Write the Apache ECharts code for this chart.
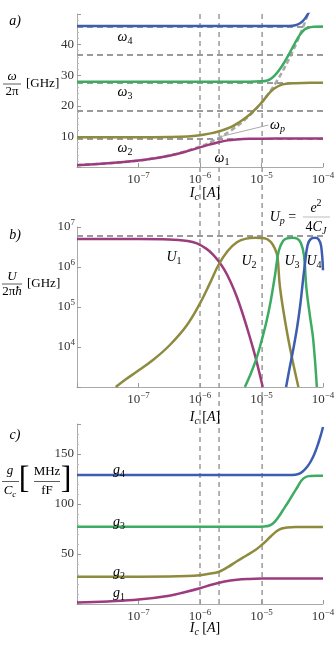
<!DOCTYPE html>
<html>
<head>
<meta charset="utf-8">
<script src="https://cdn.jsdelivr.net/npm/echarts/dist/echarts.min.js"></script>
<style>
html, body { margin: 0; padding: 0; background: #fff; }
#chart { width: 335px; height: 652px; }
</style>
</head>
<body>
<div id="chart"></div>
<script>
// x values are log10(Ic / A)
// panel a) mode frequencies omega/2pi [GHz]
const w1X = [-8, -7.5, -7, -6.75, -6.5, -6.25, -6, -5.85, -5.7, -5.55, -5.4, -5.2, -5, -4.5, -4];
const w1Y = [0.6, 1.2, 2.1, 2.8, 3.7, 4.9, 6.4, 7.3, 8.1, 8.7, 9.0, 9.2, 9.25, 9.3, 9.3];
const w2X = [-8, -7, -6.5, -6.2, -6, -5.85, -5.7, -5.5, -5.35, -5.2, -5.1, -5, -4.92, -4.85, -4.78, -4.7, -4.6, -4.45, -4.2, -4];
const w2Y = [9.7, 9.7, 9.8, 10.0, 10.4, 10.9, 11.6, 13.0, 14.8, 17.0, 18.9, 21.0, 23.0, 24.6, 25.8, 26.7, 27.2, 27.4, 27.5, 27.5];
const w3X = [-8, -5.2, -5, -4.92, -4.85, -4.78, -4.7, -4.62, -4.55, -4.48, -4.42, -4.36, -4.3, -4.24, -4.15, -4];
const w3Y = [27.9, 27.9, 28.0, 28.2, 28.8, 30.0, 32.0, 34.5, 37.0, 39.6, 41.8, 43.6, 44.9, 45.5, 45.8, 45.9];
const w4X = [-8, -4.55, -4.45, -4.38, -4.33, -4.28, -4.24, -4.2];
const w4Y = [46.1, 46.1, 46.3, 46.9, 47.7, 48.9, 50.2, 51.5];
const wpX = [-8, -7.5, -7, -6.5, -6, -5.75, -5.5, -5.25, -5, -4.75, -4.5, -4.3, -4.2];
const wpY = [0.67, 1.2, 2.1, 3.75, 6.7, 8.9, 11.9, 15.8, 21.1, 28.1, 37.5, 47.0, 52.7];
const bareModes = [9.15, 18.3, 27.45, 36.6, 45.75];
const wpPointer = [[-5.69, 9.8], [-4.89, 13.7]];

// panel b) log10(U / 2 pi hbar [GHz])
const u1X = [-8, -7, -6.5, -6.2, -6.05, -5.9, -5.8, -5.7, -5.6, -5.5, -5.4, -5.3, -5.2, -5.1, -4.98];
const u1Y = [6.70, 6.70, 6.69, 6.65, 6.59, 6.46, 6.33, 6.15, 5.92, 5.62, 5.25, 4.80, 4.30, 3.76, 3.0];
const u2X = [-7.37, -7.2, -7.03, -6.76, -6.49, -6.22, -6, -5.84, -5.7, -5.55, -5.4, -5.25, -5.1, -4.95, -4.85, -4.78, -4.74, -4.7, -4.6, -4.5, -4.4];
const u2Y = [3.0, 3.2, 3.38, 3.68, 4.05, 4.53, 5.09, 5.59, 6.05, 6.40, 6.62, 6.71, 6.73, 6.72, 6.63, 6.45, 6.25, 5.50, 4.50, 3.70, 3.0];
const u3X = [-5.27, -5.17, -5.08, -5, -4.92, -4.85, -4.78, -4.72, -4.65, -4.58, -4.5, -4.42, -4.36, -4.31, -4.27, -4.21, -4.16, -4.1];
const u3Y = [3.0, 3.35, 3.72, 4.15, 4.63, 5.15, 5.8, 6.4, 6.65, 6.72, 6.73, 6.71, 6.6, 6.3, 5.47, 4.75, 4.2, 3.0];
const u4X = [-4.6, -4.54, -4.48, -4.42, -4.37, -4.33, -4.29, -4.25, -4.2, -4.13, -4.07, -4.03, -4];
const u4Y = [3.0, 3.5, 3.97, 4.5, 5.05, 5.6, 6.13, 6.55, 6.70, 6.73, 6.69, 6.52, 5.92];
const upLevel = 6.78;

// panel c) g / Cc [MHz/fF]
const g1X = [-8, -7.5, -7, -6.5, -6.25, -6, -5.8, -5.6, -5.4, -5.2, -5, -4];
const g1Y = [1.5, 2.6, 4.4, 8.3, 11.8, 15.7, 19.5, 22.5, 24.3, 25.1, 25.4, 25.5];
const g2X = [-8, -6.5, -6.2, -6, -5.85, -5.7, -5.55, -5.4, -5.25, -5.1, -4.97, -4.85, -4.75, -4.67, -4.58, -4.45, -4];
const g2Y = [27.3, 27.4, 27.9, 28.8, 30.2, 32.0, 36.8, 42.8, 48.3, 54.0, 60.5, 67.5, 73.0, 75.5, 76.6, 77.0, 77.0];
const g3X = [-8, -5.1, -4.95, -4.88, -4.81, -4.73, -4.65, -4.56, -4.48, -4.41, -4.35, -4.28, -4.2, -4.1, -4];
const g3Y = [77.3, 77.3, 77.6, 78.3, 80.7, 86.5, 94, 102.5, 110.7, 117.5, 123.5, 127, 128, 128.3, 128.3];
const g4X = [-8, -4.5, -4.4, -4.33, -4.26, -4.2, -4.14, -4.08, -4.03, -4];
const g4Y = [129, 129, 130, 132.5, 137, 142.5, 150, 160, 170, 177];

// vertical markers (log10 Ic)
const vMarks = [-6, -5.69, -4.99];

const C1 = '#9c3b7d', C2 = '#8e8a3e', C3 = '#3dab62', C4 = '#3d5db0', GR = '#9a9a9a';
const SERIF = '"Liberation Serif", "DejaVu Serif", serif';

function pts(xs, ys) { return xs.map((x, i) => [Math.pow(10, x), ys[i]]); }
function ptsLog(xs, ys) { return xs.map((x, i) => [Math.pow(10, x), Math.pow(10, ys[i])]); }

const supRich = {
  b: { fontFamily: SERIF, fontSize: 13, color: '#333' },
  s: { fontFamily: SERIF, fontSize: 9, color: '#333', padding: [0, 0, 9, 0] }
};
function xLab(v) {
  const e = Math.round(Math.log10(v));
  if (e === -8) return '';
  return '{b|10}{s|' + (e < 0 ? '\u2212' : '') + Math.abs(e) + '}';
}

function xAxisFor(i, show) {
  return {
    type: 'log', logBase: 10, gridIndex: i, min: 1e-8, max: 1e-4, show: show,
    axisLine: { lineStyle: { color: '#aaa', width: 1 } },
    axisTick: { inside: true, length: 4, lineStyle: { color: '#999' } },
    axisLabel: { formatter: xLab, rich: supRich, margin: 4 },
    splitLine: { show: false }
  };
}
function yLin(i, max, interval, hideMax) {
  return {
    type: 'value', gridIndex: i, min: 0, max: max, interval: interval,
    axisLine: { show: true, lineStyle: { color: '#aaa', width: 1 } },
    axisTick: { show: true, inside: true, length: 4, lineStyle: { color: '#999' } },
    minorTick: { show: true, splitNumber: 5, length: 2, lineStyle: { color: '#bbb' } },
    axisLabel: {
      fontFamily: SERIF, fontSize: 13, color: '#333', margin: 3,
      formatter: v => (v === 0 || v >= hideMax) ? '' : String(v)
    },
    splitLine: { show: false }
  };
}

function curve(name, x, y, color, data, extra) {
  return Object.assign({
    name: name, type: 'line', xAxisIndex: x, yAxisIndex: y, data: data,
    showSymbol: false, smooth: 0.4, silent: true, z: 5,
    lineStyle: { color: color, width: 2.5 }
  }, extra || {});
}

const dashStyle = { color: GR, width: 2, type: [6, 4] };

const series = [
  // bare resonator modes
  {
    type: 'line', xAxisIndex: 0, yAxisIndex: 0, data: [], silent: true, z: 2,
    markLine: {
      silent: true, symbol: ['none', 'none'], label: { show: false },
      lineStyle: dashStyle,
      data: bareModes.map(v => ({ yAxis: v }))
    }
  },
  curve('wp', 0, 0, GR, pts(wpX, wpY), {
    z: 3, lineStyle: { color: '#a8a8a8', width: 2.5, type: [5, 3] },
    markLine: {
      silent: true, symbol: ['none', 'none'], label: { show: false },
      lineStyle: { color: '#aaa', width: 1, type: 'solid' },
      data: [[{ coord: [Math.pow(10, wpPointer[0][0]), wpPointer[0][1]] },
              { coord: [Math.pow(10, wpPointer[1][0]), wpPointer[1][1]] }]]
    }
  }),
  curve('w1', 0, 0, C1, pts(w1X, w1Y)),
  curve('w2', 0, 0, C2, pts(w2X, w2Y)),
  curve('w3', 0, 0, C3, pts(w3X, w3Y)),
  curve('w4', 0, 0, C4, pts(w4X, w4Y)),
  // U_p level
  {
    type: 'line', xAxisIndex: 1, yAxisIndex: 1, data: [], silent: true, z: 2,
    markLine: {
      silent: true, symbol: ['none', 'none'], label: { show: false },
      lineStyle: dashStyle,
      data: [{ yAxis: Math.pow(10, upLevel) }]
    }
  },
  curve('U1', 1, 1, C1, ptsLog(u1X, u1Y)),
  curve('U2', 1, 1, C2, ptsLog(u2X, u2Y)),
  curve('U3', 1, 1, C3, ptsLog(u3X, u3Y)),
  curve('U4', 1, 1, C4, ptsLog(u4X, u4Y)),
  curve('g1', 2, 2, C1, pts(g1X, g1Y)),
  curve('g2', 2, 2, C2, pts(g2X, g2Y)),
  curve('g3', 2, 2, C3, pts(g3X, g3Y)),
  curve('g4', 2, 2, C4, pts(g4X, g4Y))
];
// vertical markers spanning all three panels (overlay grid, y from 0 to 1)
vMarks.forEach(v => {
  series.push({
    type: 'line', xAxisIndex: 3, yAxisIndex: 3, silent: true, z: 1, showSymbol: false,
    data: [[Math.pow(10, v), 0], [Math.pow(10, v), 1]],
    lineStyle: { color: GR, width: 1.5, type: [5, 4] }
  });
});

// text helpers for graphic annotations
function rt(x, y, text, rich, align) {
  return {
    type: 'text', x: x, y: y, silent: true, z: 20,
    style: { text: text, rich: rich, align: align || 'center', verticalAlign: 'middle' }
  };
}
function hline(x1, x2, y, color) {
  return { type: 'line', silent: true, z: 20, shape: { x1: x1, y1: y, x2: x2, y2: y }, style: { stroke: color || '#333', lineWidth: 0.8 } };
}
function subRich(color, size) {
  size = size || 14;
  const sm = Math.round(size * 0.68);
  return {
    i: { fontFamily: SERIF, fontStyle: 'italic', fontSize: size, color: color },
    n: { fontFamily: SERIF, fontSize: size, color: color },
    d: { fontFamily: SERIF, fontSize: sm, color: color, padding: [8, 0, 0, 0] },
    p: { fontFamily: SERIF, fontStyle: 'italic', fontSize: sm, color: color, padding: [8, 0, 0, 0] },
    u: { fontFamily: SERIF, fontSize: sm, color: color, padding: [0, 0, 9, 0] }
  };
}
const K = '#333';
const graphics = [
  rt(15, 21, '{i|a)}', subRich(K, 14)),
  rt(15, 235, '{i|b)}', subRich(K, 14)),
  rt(15, 435, '{i|c)}', subRich(K, 14)),
  // y titles
  rt(12, 77, '{i|\u03c9}', subRich(K, 13)),
  hline(3, 21, 84),
  rt(12, 92, '{n|2\u03c0}', subRich(K, 13)),
  rt(26, 84, '{n|[GHz]}', subRich(K, 13), 'left'),
  rt(12, 277, '{i|U}', subRich(K, 13)),
  hline(2, 22, 284),
  rt(12, 292, '{n|2\u03c0}{i|\u0127}', subRich(K, 13)),
  rt(27, 284, '{n|[GHz]}', subRich(K, 13), 'left'),
  rt(10, 471, '{i|g}', subRich(K, 13)),
  hline(2, 19, 481.5),
  rt(10, 491, '{i|C}{p|c}', subRich(K, 13)),
  rt(24, 480, '{n|[}', subRich(K, 32)),
  rt(47, 472, '{n|MHz}', subRich(K, 13)),
  hline(34, 60, 481.5),
  rt(47, 491, '{n|fF}', subRich(K, 13)),
  rt(66, 480, '{n|]}', subRich(K, 32)),
  // x titles
  rt(205, 193, '{i|I}{p|c}{n| [}{i|A}{n|]}', subRich(K, 14)),
  rt(205, 417, '{i|I}{p|c}{n| [}{i|A}{n|]}', subRich(K, 14)),
  rt(205, 628, '{i|I}{p|c}{n| [}{i|A}{n|]}', subRich(K, 14)),
  // curve labels
  rt(125, 37, '{i|\u03c9}{d|4}', subRich(C4, 14)),
  rt(125, 92, '{i|\u03c9}{d|3}', subRich(C3, 14)),
  rt(125, 148, '{i|\u03c9}{d|2}', subRich(C2, 14)),
  rt(222, 158, '{i|\u03c9}{d|1}', subRich(C1, 14)),
  rt(270, 125, '{i|\u03c9}{p|p}', subRich('#999', 14), 'left'),
  rt(174, 257, '{i|U}{d|1}', subRich(C1, 14)),
  rt(249, 261, '{i|U}{d|2}', subRich(C2, 14)),
  rt(292, 261, '{i|U}{d|3}', subRich(C3, 14)),
  rt(314, 261, '{i|U}{d|4}', subRich(C4, 14)),
  rt(119, 470, '{i|g}{d|4}', subRich(C4, 14)),
  rt(119, 522, '{i|g}{d|3}', subRich(C3, 14)),
  rt(119, 572, '{i|g}{d|2}', subRich(C2, 14)),
  rt(119, 593, '{i|g}{d|1}', subRich(C1, 14)),
  // U_p annotation
  rt(283, 217, '{i|U}{p|p}{n| =}', subRich('#aaa', 14)),
  rt(316, 208, '{i|e}{u|2}', subRich('#aaa', 14)),
  hline(303, 330, 217, '#aaa'),
  rt(316, 227, '{n|4}{i|C}{p|J}', subRich('#aaa', 14))
];

const chart = echarts.init(document.getElementById('chart'), null, { renderer: 'canvas' });
chart.setOption({
  animation: false,
  backgroundColor: '#fff',
  grid: [
    { left: 77, top: 14, width: 246, height: 153, outerBoundsMode: 'none' },
    { left: 77, top: 227, width: 246, height: 160, outerBoundsMode: 'none' },
    { left: 77, top: 424, width: 246, height: 180, outerBoundsMode: 'none' },
    { left: 77, top: 12, width: 246, height: 592, outerBoundsMode: 'none' }
  ],
  xAxis: [xAxisFor(0, true), xAxisFor(1, true), xAxisFor(2, true), xAxisFor(3, false)],
  yAxis: [
    yLin(0, 50, 10, 50),
    {
      type: 'log', logBase: 10, gridIndex: 1, min: 1e3, max: 1e7,
      axisLine: { show: true, lineStyle: { color: '#aaa', width: 1 } },
      axisTick: { show: true, inside: true, length: 4, lineStyle: { color: '#999' } },
      axisLabel: {
        margin: 2, rich: supRich,
        formatter: v => {
          const e = Math.round(Math.log10(v));
          return e <= 3 ? '' : '{b|10}{s|' + e + '}';
        }
      },
      splitLine: { show: false }
    },
    yLin(2, 180, 50, 180),
    { type: 'value', gridIndex: 3, min: 0, max: 1, show: false }
  ],
  series: series,
  graphic: graphics
});
</script>
</body>
</html>
